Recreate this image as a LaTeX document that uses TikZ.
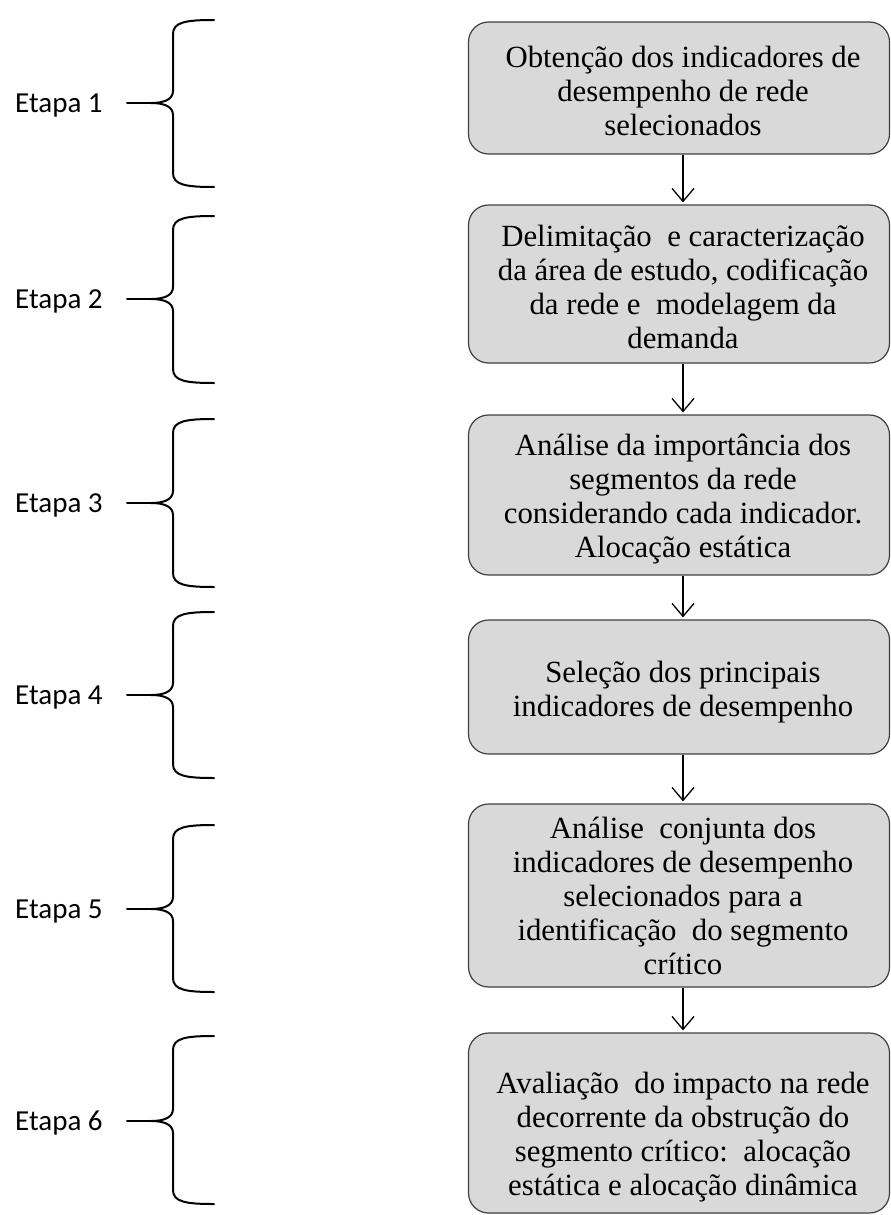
\documentclass[tikz,border=0pt]{standalone}
\usepackage{fontspec}
\setmainfont{Liberation Serif}
\newfontfamily\etapafont{Carlito}
\usetikzlibrary{arrows.meta}

% one stage marker: label, top y, tip y, bottom y
\newcommand\stagebrace[4]{%
  \node[etapa] (e#1) at (15,#3+9) {Etapa #1};
  \coordinate (t#1) at (151,#3);
  \draw[brace] (127,#3) -- (t#1);
  \draw[brace] (214,#2) .. controls (186,#2) and (173,#2+2) .. (173,#2+14)
    -- (173,#3-12) .. controls (173,#3-4) and (165,#3) .. (t#1)
    .. controls (165,#3) and (173,#3+4) .. (173,#3+12)
    -- (173,#4-14) .. controls (173,#4-2) and (186,#4) .. (214,#4);
}

% one process step: name, centre y, height, text shift down, text
\newcommand\processstep[5]{%
  \node[stepbox, minimum height=#3pt] (#1) at (679,#2) {};
  \node[steptext] (#1text) at ([xshift=4pt, yshift=-#4pt]#1.center) {#5};
}

\begin{document}
\begin{tikzpicture}[x=1pt,y=-1pt,
  stepbox/.style={draw=black!75, line width=1.2pt, fill=black!15,
    rounded corners=20pt, minimum width=421pt, inner sep=0pt},
  steptext/.style={align=center, inner sep=0pt,
    font=\fontsize{30.8}{34}\selectfont},
  flow/.style={line width=1.3pt, shorten >=2pt,
    -{Straight Barb[length=13pt,width=22pt,line width=1.3pt]}},
  etapa/.style={anchor=base west, inner sep=0pt,
    font=\etapafont\fontsize{29}{34}\selectfont},
  brace/.style={line width=2pt, line cap=round}]
\useasboundingbox (0,0) rectangle (891,1215);

% process steps
\processstep{b1}{88}{132}{3}
  {Obtenção dos indicadores de\\desempenho de rede\\selecionados}
\processstep{b2}{284}{158}{3}
  {Delimitação\ \ e caracterização\\da área de estudo, codificação\\da rede e\ \ modelagem da\\demanda}
\processstep{b3}{495}{160}{4}
  {Análise da importância dos\\segmentos da rede\\considerando cada indicador.\\Alocação estática}
\processstep{b4}{687}{134}{5}
  {Seleção dos principais\\indicadores de desempenho}
\processstep{b5}{895.5}{183}{0}
  {Análise\ \ conjunta dos\\indicadores de desempenho\\selecionados para a\\identificação\ \ do segmento\\crítico}
\processstep{b6}{1123}{180}{14}
  {Avaliação\ \ do impacto na rede\\decorrente da obstrução do\\segmento crítico:\ \ alocação\\estática e alocação dinâmica}

% connectors
\foreach \a/\b in {b1/b2,b2/b3,b3/b4,b4/b5,b5/b6}
  \draw[flow] ([xshift=4pt]\a.south) -- ([xshift=4pt]\b.north);

% stage braces
\stagebrace{1}{20}{103}{187}
\stagebrace{2}{216}{299}{383}
\stagebrace{3}{419}{503}{587}
\stagebrace{4}{612}{695}{778}
\stagebrace{5}{825}{909}{992}
\stagebrace{6}{1036}{1121}{1204}
\end{tikzpicture}
\end{document}
